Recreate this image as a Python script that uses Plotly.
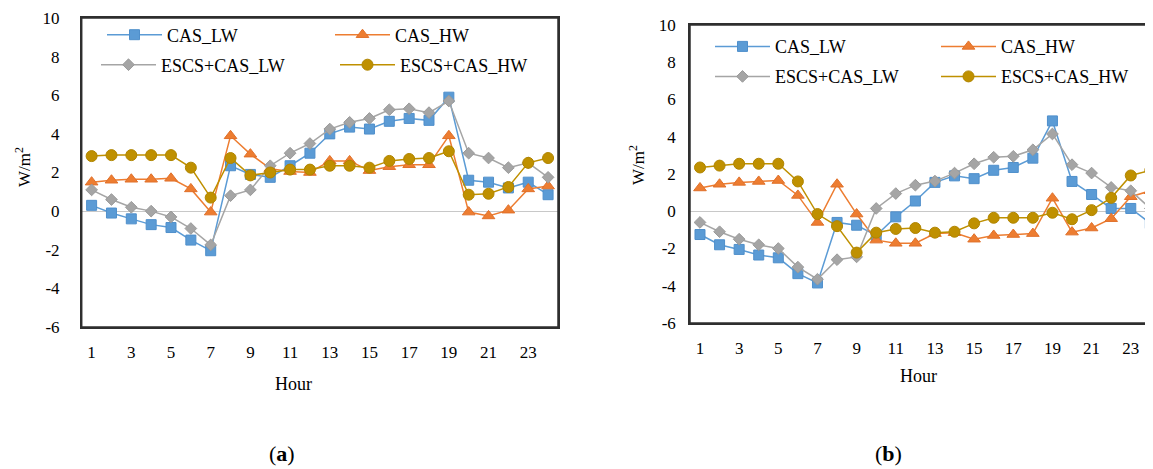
import plotly.graph_objects as go

hours = list(range(1, 25))
tick_hours = list(range(1, 24, 2))
series_names = ["CAS_LW", "CAS_HW", "ESCS+CAS_LW", "ESCS+CAS_HW"]

# Panel (a)
a_cas_lw = [0.3, -0.1, -0.4, -0.7, -0.85, -1.5, -2.05, 2.35, 1.9, 1.75, 2.35, 3.0,
            4.0, 4.35, 4.25, 4.65, 4.8, 4.7, 5.9, 1.6, 1.5, 1.2, 1.5, 0.85]
a_cas_hw = [1.5, 1.6, 1.65, 1.65, 1.7, 1.15, -0.05, 3.9, 2.95, 2.2, 2.05, 2.0,
            2.6, 2.6, 2.1, 2.3, 2.4, 2.4, 3.9, -0.05, -0.25, 0.05, 1.15, 1.3]
a_escs_lw = [1.1, 0.6, 0.2, 0.0, -0.3, -0.9, -1.75, 0.8, 1.1, 2.35, 3.0, 3.5,
             4.25, 4.6, 4.8, 5.25, 5.3, 5.1, 5.7, 3.0, 2.75, 2.25, 2.5, 1.75]
a_escs_hw = [2.85, 2.9, 2.9, 2.9, 2.9, 2.25, 0.7, 2.75, 1.85, 2.0, 2.15, 2.15,
             2.35, 2.35, 2.25, 2.6, 2.7, 2.75, 3.1, 0.85, 0.9, 1.25, 2.5, 2.75]

# Panel (b)
b_cas_lw = [-1.25, -1.8, -2.05, -2.35, -2.5, -3.35, -3.85, -0.6, -0.75, -1.3, -0.3, 0.55,
            1.55, 1.9, 1.75, 2.2, 2.35, 2.85, 4.85, 1.6, 0.9, 0.15, 0.15, -0.65]
b_cas_hw = [1.25, 1.45, 1.55, 1.6, 1.65, 0.85, -0.6, 1.45, -0.15, -1.55, -1.72, -1.72,
            -1.2, -1.15, -1.5, -1.3, -1.25, -1.2, 0.7, -1.12, -0.9, -0.4, 0.78, 1.1]
b_escs_lw = [-0.6, -1.1, -1.5, -1.8, -2.0, -3.0, -3.65, -2.6, -2.45, 0.15, 0.95, 1.4,
             1.62, 2.05, 2.55, 2.9, 2.95, 3.3, 4.15, 2.5, 2.05, 1.28, 1.1, 0.15]
b_escs_hw = [2.35, 2.45, 2.55, 2.55, 2.55, 1.6, -0.15, -0.8, -2.22, -1.15, -0.95, -0.9,
             -1.15, -1.1, -0.65, -0.35, -0.35, -0.35, -0.08, -0.43, 0.06, 0.72, 1.92, 2.2]

y_ticks = list(range(-6, 11, 2))
y_tick_text = [str(v) for v in y_ticks]

styles = [
    dict(color="#5B9BD5", symbol="square", size=10, edge="#4F8FCB"),
    dict(color="#ED7D31", symbol="triangle-up", size=11, edge="#E0702A"),
    dict(color="#A5A5A5", symbol="diamond", size=9, edge="#9A9A9A"),
    dict(color="#BF9000", symbol="circle", size=11, edge="#B08500"),
]

SERIF = "Liberation Serif"
W, H = 1153, 469
OFF = 8  # page body margin

def px(v):
    return (v - OFF) / W

def py(v):
    return 1 - (v - OFF) / H

y_range = [-6, 10]
a_x_range = [0.5, 24.5]
b_x_range = [0.49, 1 + (W + OFF - 700) / 19.58]

fig = go.Figure()

panels = [
    ("x", "y", [a_cas_lw, a_cas_hw, a_escs_lw, a_escs_hw], ["legend", "legend", "legend2", "legend2"]),
    ("x2", "y2", [b_cas_lw, b_cas_hw, b_escs_lw, b_escs_hw], ["legend3", "legend3", "legend4", "legend4"]),
]
for xa, ya, data, legs in panels:
    for name, vals, st, lg in zip(series_names, data, styles, legs):
        fig.add_trace(go.Scatter(
            x=hours, y=vals, name=name, mode="lines+markers",
            xaxis=xa, yaxis=ya, legend=lg,
            line=dict(color=st["color"], width=1.5),
            marker=dict(symbol=st["symbol"], size=st["size"], color=st["color"],
                        line=dict(color=st["edge"], width=1)),
        ))

FRAME_COLOR = "#2F2F2F"

axis_common = dict(showgrid=False, showline=True, linecolor=FRAME_COLOR, linewidth=1.5,
                   ticks="", tickfont=dict(family=SERIF, size=17, color="#000"),
                   automargin=False, layer="above traces")

a_x0, a_x1, a_y0, a_y1 = px(81.7), px(558), py(327), py(18)
b_x0, b_x1, b_y0, b_y1 = px(690), 1.0, py(323), py(25)

fig.update_layout(
    width=W, height=H,
    paper_bgcolor="white", plot_bgcolor="white",
    margin=dict(l=0, r=0, t=0, b=0, autoexpand=False),
    font=dict(family=SERIF, size=17, color="#000"),
    hovermode=False,
    xaxis=dict(domain=[a_x0, a_x1], range=a_x_range, tickvals=tick_hours, mirror="all",
               zeroline=False, anchor="y", ticklabelstandoff=9, **axis_common),
    yaxis=dict(domain=[a_y0, a_y1], range=y_range, tickvals=y_ticks, ticktext=y_tick_text,
               mirror="all", zeroline=True, zerolinecolor="#C8C8C8", zerolinewidth=1,
               anchor="x", ticklabelstandoff=17, **axis_common),
    xaxis2=dict(domain=[b_x0, b_x1], range=b_x_range, tickvals=tick_hours, mirror="all",
                zeroline=False, anchor="y2", ticklabelstandoff=9, **axis_common),
    yaxis2=dict(domain=[b_y0, b_y1], range=y_range, tickvals=y_ticks, ticktext=y_tick_text,
                mirror=False, zeroline=True, zerolinecolor="#C8C8C8", zerolinewidth=1,
                anchor="x2", ticklabelstandoff=9, **axis_common),
)

FRAME = dict(color=FRAME_COLOR, width=1.5)
shapes = [
    dict(type="rect", xref="paper", yref="paper", x0=a_x0, x1=a_x1, y0=a_y0, y1=a_y1,
         line=FRAME, layer="above"),
    dict(type="line", xref="paper", yref="paper", x0=b_x0, x1=b_x1, y0=b_y0, y1=b_y0, line=FRAME, layer="above"),
    dict(type="line", xref="paper", yref="paper", x0=b_x0, x1=b_x1, y0=b_y1, y1=b_y1, line=FRAME, layer="above"),
    dict(type="line", xref="paper", yref="paper", x0=b_x0, x1=b_x0, y0=b_y0, y1=b_y1, line=FRAME, layer="above"),
]
fig.update_layout(shapes=shapes)

leg_common = dict(orientation="h", xanchor="left", yanchor="middle", bgcolor="rgba(0,0,0,0)",
                  font=dict(family=SERIF, size=18, color="#000"), entrywidthmode="pixels",
                  tracegroupgap=0, itemclick=False, itemwidth=55)
fig.update_layout(
    legend=dict(x=px(102), y=py(35), entrywidth=158, **leg_common),
    legend2=dict(x=px(96), y=py(65), entrywidth=169, **leg_common),
    legend3=dict(x=px(710), y=py(46.7), entrywidth=156, **leg_common),
    legend4=dict(x=px(710), y=py(76.7), entrywidth=156, **leg_common),
)

ann = []
for xc, yc in [(23, 167), (637, 165)]:
    ann.append(dict(text="W/m<sup>2</sup>", x=px(xc), y=py(yc), xref="paper", yref="paper",
                    xanchor="center", yanchor="middle",
                    showarrow=False, textangle=-90, font=dict(family=SERIF, size=17, color="#000")))
for xc, yc in [(293, 384), (918, 376)]:
    ann.append(dict(text="Hour", x=px(xc), y=py(yc), xref="paper", yref="paper",
                    xanchor="center", yanchor="middle",
                    showarrow=False, font=dict(family=SERIF, size=18, color="#000")))
for xc, lab in [(282, "a"), (888, "b")]:
    ann.append(dict(text="(<b>%s</b>)" % lab, x=px(xc), y=py(453), xref="paper", yref="paper",
                    xanchor="center", yanchor="middle",
                    showarrow=False, font=dict(family=SERIF, size=22, color="#000")))
fig.update_layout(annotations=ann)

fig.write_html("out.html")
